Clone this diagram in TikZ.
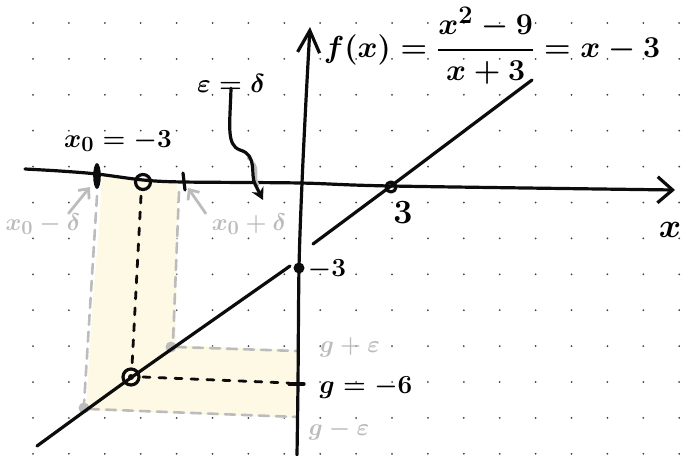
\documentclass[tikz,border=0pt]{standalone}
\usepackage{amsmath,amssymb}
\usetikzlibrary{arrows.meta}
\definecolor{penblack}{RGB}{12,12,12}
\definecolor{pengray}{RGB}{188,188,188}
\definecolor{hilite}{RGB}{253,249,228}

\begin{document}
\begin{tikzpicture}[x=1pt, y=-1pt, line cap=round, line join=round,
  pen/.style={line width=3.2pt, penblack},
  grayp/.style={line width=2.8pt, pengray},
  pendash/.style={line width=2.8pt, penblack, dash pattern=on 7pt off 9pt},
  graydash/.style={line width=2.6pt, pengray, dash pattern=on 10pt off 7pt},
  hand/.style={font=\Huge\boldmath, scale=1.05, inner sep=0pt},
  grayhand/.style={hand, pengray, scale=0.92}]
\useasboundingbox (0,0) rectangle (682,455);
% dotted paper
\foreach \i in {0,...,18}
  \foreach \j in {0,...,12}
    \fill[black!75] (33+35.9*\i, 23+35.9*\j) circle (1pt);
% highlighted region
\fill[hilite] (102,175) -- (177,181) -- (176,345) -- (297,350) -- (298,418)
  -- (86,410) -- (93,300) -- (99,230) -- cycle;
% delta and epsilon bounds
\draw[graydash] (97,196) -- (84,404);
\draw[graydash] (179,192) -- (173,342);
\draw[graydash] (176,347) -- (297,351);
\draw[graydash] (89,409) -- (297,417);
\fill[pengray] (84,408) circle (5.5pt);
\fill[pengray] (171,347) circle (5.5pt);
% axes
\draw[pen, -{Straight Barb[length=15pt, width=26pt]}] plot[smooth, tension=0.5]
  coordinates {(25,169) (60,171) (97,174) (143,180) (183,182) (300,183) (391,186) (675,190)};
\draw[pen, -{Straight Barb[length=22pt, width=22pt]}] plot[smooth, tension=0.5]
  coordinates {(297,455) (298,383) (299,268) (302,183) (306,100) (310,27)};
% graph of f with its hole
\draw[pen] (313,244) -- (391,186) -- (532,80);
\draw[pen] plot[smooth, tension=0.4] coordinates {(37,446) (132,377) (283,271)};
\draw[pen] (283,271) -- (290,266);
\fill[penblack] (299,268) circle (5.5pt);
\draw[pen] (391,187) circle (5pt);
\draw[pen] (143,182) circle (7.5pt);
\draw[pen] (131,377) circle (8pt);
\fill[penblack] (131,377) circle (3pt);
% guides to the hole
\draw[pendash] (141,196) -- (132,366);
\draw[pendash] (143,377) -- (289,383);
\draw[pen] (289,384) -- (304,384);
% delta ticks
\fill[penblack] (97,176) ellipse (3.8pt and 13pt);
\draw[pen] (183,173) -- (185,190);
% labels
\node[hand] (xnull) at (118,141) {$x_0=-3$};
\node[hand] (epsdel) at (231,83) {$\varepsilon=\delta$};
\node[grayhand] (lowlab) at (43,224) {$x_0-\delta$};
\node[grayhand] (upplab) at (249,224) {$x_0+\delta$};
\node[hand, scale=1.3] (three) at (403,213) {$3$};
\node[hand] (mthree) at (327,270) {$-3$};
\node[hand] (glab) at (366,388) {$g=-6$};
\node[grayhand] (gup) at (350,347) {$g+\varepsilon$};
\node[grayhand] (gdown) at (339,430) {$g-\varepsilon$};
\node[hand, scale=1.3] (xlab) at (670,230) {$x$};
\node[hand] (ylab) at (318,-13) {$y$};
\node[font=\Huge\boldmath, scale=1.22, inner sep=0pt] (fx) at (492,46)
  {$f(x)=\dfrac{x^2-9}{x+3}=x-3$};
% pointers
\coordinate (lowtick) at (90,187);
\coordinate (upptick) at (188,188);
\coordinate (epstip) at (263,200);
\draw[grayp, -{Straight Barb[length=8pt, width=14pt]}]
  ([xshift=-12pt]lowlab.north east) -- (lowtick);
\draw[grayp, -{Straight Barb[length=8pt, width=14pt]}]
  ([xshift=-6pt]upplab.north west) -- (upptick);
\draw[grayp] (248,158) .. controls (262,168) and (252,175) .. (258,185);
\draw[pen, -{Stealth[length=12pt, width=13pt]}] ([yshift=4pt]epsdel.south)
  .. controls (230,125) and (226,145) .. (240,150)
  .. controls (258,155) and (250,175) .. (255,184) -- (epstip);
\end{tikzpicture}
\end{document}
